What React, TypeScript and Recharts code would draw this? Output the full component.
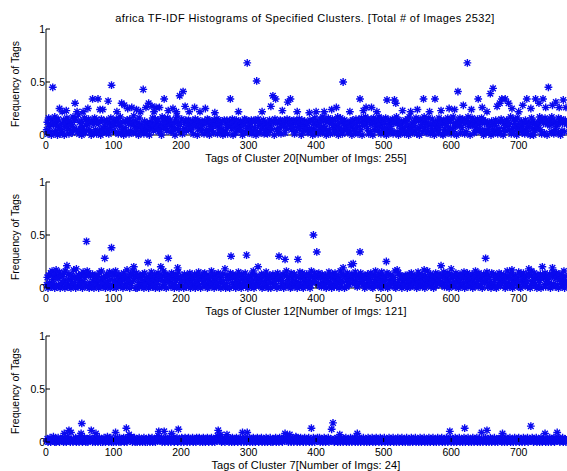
import React from "react";
import { ScatterChart, Scatter, XAxis, YAxis } from "recharts";

// tag frequencies, one char per tag (base36 digit = hundredths)
const cluster20Band = [
  "5c1g83a0e6b2h94d0f7c1a5i2e08b3g6d1c94a2h7e0f5b3j1c6d08a4g2e9b1f5c3",
  "0d7a2g5e1c9b4h0f6a3d8c2e5k1b7g0a4d9c3f6e1b8h2a5c0g7d3e9b1f4a6c2i8d",
  "2e6b0g9c4a7f1d5h3b8e0c6a2g4d9f1b7e3c5a0h8d2f6b4g1c9e3a7d5b0f2i6c4",
  "8a3f1d6c0e4b9e2d5a7d1c3f8b0e6c2a4d9c1d7b5f3e0a8c6d2e4b9f1e7c3a5d0",
  "4e2c7e1a9d3b6f0c8d2e5a1c7d4b0c9f3e6a2d8b5e1c4e7d0a3f9d2b6c8e1c5a4",
  "1b8e4a6c2c0f9d5b3d7e1a4c8e2d6f0b9e3c5a7e1d4d2b8f6c0e3a9d5c7b2c1e4",
  "6d0a5g3e9c1b7f4d2h8a6e0c3g5b1d9f7a2e4c8h0b6g3d1f5e9a7c2b4g8d0e6a3",
  "3f7c1e8a5g0d4b9h2c6f1e3a7d0g5b8c2e4h9a1f6d3b7g0c5e2a8d4f1b9c6h3e0",
  "9a2d6g4c1e8b3f0h5d7a2c9e4g1b6d0f8a3c5h7e2b4g9d1a6f3c0e8b5d2g7a4c1",
  "0e5b9d2g7a4c1f6h3e8b0d5a9g2c7f4e1b3d6h8a0c5g9e2b7d4f1a6c3g8e0b5d2",
  "7c3a8f0d5g2b9e4h1c6a3f8d0b7g4e9c2a5h1d6f3b8e0g7c4a9d2f5b1e6g3c8a0",
  "2g6d0b4e9a7c3h5f1d8b2g6e0a4c9f3h7b1d5e8a2g6c0f4b9d3e7a1h5c8g2b6e4",
];

const cluster12Band = [
  "3a0c52e1g84b0d61a93f0c25b7e0g2a48d1c06b3h5a0e92c7b14d0f6a3c8g1e05b2",
  "1d60a4c83b0e72g15a9c04d6b2f08a3e1c7g05b4d92a6c0e38b1f5a70d2c6g49b0e",
  "0a5c2b81d40e63a9b07c2f51a8d03b6e90c4a27g15d0b83c6a1e49d0b72c5f08a3",
  "52b0d7a13c96e0b48a2d05c71f3a09b6d2e84c0a17b5g3c90d6a24e1b80c5d73a0",
  "4c1a80e3b5d29a06c4f17b0d83a5e2c90b6a41d7g0c3b58e2a96d0c14b7f3a08c5",
  "0b9d3a62c0e85a1b47d0c93g2a65b0e18c4d72a0b53f9c1e06a84d2b7c03g5a19e",
  "6a0c4e2b91d5a38c07b6f2a40d9c1e73b5a08g2d64c0b91e5a37c2d80b4f6a13c9",
  "1e5a73c0b94d2a86e1c05b3g7a29d4c0f61b8a35e0d72c4b96a1g03d5e8c2b07a4",
  "3c8b0a5d61e2c97a4b03f8d1a56c2e0b94g7a3d15c80b6e2a49d7c03b5f1a82e6c",
  "0d4a92b6c1e57a03d8c2b4f0a96e1c73b5d08a2g4c61e9b3a07d5c28f1b4a60e3d",
  "5a1c08b3e72d4a9c60b2g5a18d3e0c74b9a26f1d0c85e3a4b71d9c02g6a5e38b0c",
  "2b7d0a4c93e1a68b5d02c7f4a19e3b0d86c2a5g07b4e1d93a6c08f2b5d71e0a4c9",
];

const cluster7Band = [
  "1302140213520103241022314031201523104210321403120261302143012032410",
  "2031402130241032014203152031402103240132041023140213042031520314021",
  "0314021302410320142031402130241603214021304213024103214023140213204",
  "3102413024103214021304123402130421032410231402130241603214032140213",
  "1402130421032410321402130241032140213042103241023140213024103214021",
  "0213402130421302410321402730241032140213042130241032140213024103214",
  "2140213024103214021302410321402130241032140213024103214021302410321",
  "4021302410321402130421302410321402130241032140213024103214021302410",
  "1302410321402130241032140213024103214021302410321402130241032140213",
  "0241032140213024103214021302410321402130241032140213024103214021302",
  "3214021302410321402130241032140213024103214021302410321402130241032",
  "1402130241032140213024103214021302410321402130241032140213024103214",
];

// the points standing clear of the band: [tag, frequency]
const cluster20Peaks: [number, number][] = [
  [10, 0.45], [20, 0.25], [24, 0.22], [30, 0.23], [43, 0.3], [46, 0.22], [55, 0.22],
  [62, 0.25], [69, 0.34], [77, 0.34], [80, 0.24], [84, 0.24], [92, 0.32], [97, 0.47],
  [105, 0.22], [112, 0.3], [116, 0.28], [121, 0.25], [127, 0.26], [134, 0.24], [140, 0.22],
  [144, 0.43], [148, 0.26], [152, 0.3], [157, 0.27], [160, 0.22], [163, 0.26], [168, 0.26],
  [175, 0.34], [181, 0.23], [188, 0.25], [193, 0.22], [198, 0.37], [203, 0.41], [206, 0.27],
  [212, 0.22], [220, 0.26], [228, 0.22], [236, 0.25], [250, 0.21], [273, 0.34], [285, 0.22],
  [298, 0.68], [312, 0.51], [320, 0.22], [333, 0.27], [336, 0.37], [340, 0.34], [350, 0.23],
  [358, 0.31], [362, 0.34], [372, 0.22], [390, 0.21], [400, 0.22], [412, 0.22], [423, 0.24],
  [430, 0.26], [440, 0.5], [450, 0.22], [465, 0.34], [470, 0.23], [474, 0.26], [482, 0.26],
  [490, 0.22], [505, 0.33], [516, 0.33], [518, 0.3], [528, 0.23], [540, 0.22], [550, 0.24],
  [559, 0.34], [568, 0.22], [576, 0.34], [585, 0.23], [597, 0.25], [605, 0.24], [610, 0.41],
  [618, 0.28], [624, 0.68], [630, 0.24], [640, 0.34], [646, 0.26], [653, 0.22], [658, 0.39],
  [662, 0.44], [668, 0.27], [672, 0.3], [675, 0.34], [680, 0.34], [685, 0.3], [690, 0.25],
  [700, 0.22], [706, 0.28], [712, 0.34], [718, 0.25], [725, 0.34], [730, 0.3], [736, 0.34],
  [740, 0.26], [744, 0.45], [750, 0.28], [755, 0.31], [760, 0.26], [766, 0.33], [770, 0.26],
];

const cluster12Peaks: [number, number][] = [
  [15, 0.17], [31, 0.21], [45, 0.18], [60, 0.44], [87, 0.28], [97, 0.38], [120, 0.17],
  [130, 0.2], [151, 0.24], [170, 0.2], [181, 0.28], [195, 0.19], [265, 0.18], [274, 0.3],
  [297, 0.31], [314, 0.2], [345, 0.3], [354, 0.27], [373, 0.27], [396, 0.5], [401, 0.34],
  [440, 0.19], [452, 0.22], [455, 0.23], [465, 0.34], [504, 0.25], [520, 0.17], [560, 0.17],
  [585, 0.21], [600, 0.18], [651, 0.28], [690, 0.17], [715, 0.18], [735, 0.2], [750, 0.19],
];

const cluster7Peaks: [number, number][] = [
  [27, 0.08], [34, 0.11], [37, 0.09], [52, 0.08], [53, 0.175], [67, 0.11], [74, 0.08],
  [103, 0.09], [119, 0.13], [123, 0.07], [167, 0.1], [175, 0.1], [186, 0.08], [196, 0.12],
  [255, 0.11], [259, 0.07], [268, 0.07], [291, 0.09], [298, 0.09], [354, 0.08], [370, 0.05],
  [393, 0.13], [423, 0.12], [425, 0.18], [435, 0.07], [461, 0.08], [598, 0.1], [620, 0.13],
  [645, 0.09], [653, 0.11], [676, 0.08], [718, 0.15], [739, 0.08], [757, 0.09],
];

const TAG_COUNT = 771;
const X_TICKS = [0, 100, 200, 300, 400, 500, 600, 700];
const Y_TICKS = [0, 0.5, 1];

const FONT = "'Liberation Sans', Arial, Helvetica, sans-serif";
const BLUE = "#0a0aef";

const buildSeries = (band: string[], peaks: [number, number][]) => {
  const values = band.join("").slice(0, TAG_COUNT).split("").map((ch) => parseInt(ch, 36) / 100);
  peaks.forEach(([tag, v]) => {
    values[tag - 1] = v;
  });
  return values.map((freq, i) => ({ tag: i + 1, freq }));
};

const panels = [
  { top: 29, data: buildSeries(cluster20Band, cluster20Peaks), xLabel: "Tags of Cluster 20[Number of Imgs: 255]" },
  { top: 182, data: buildSeries(cluster12Band, cluster12Peaks), xLabel: "Tags of Cluster 12[Number of Imgs: 121]" },
  { top: 336, data: buildSeries(cluster7Band, cluster7Peaks), xLabel: "Tags of Cluster 7[Number of Imgs: 24]" },
];

const PLOT_H = 106;
const PAD_TOP = 10;

// matlab style '*' marker
const Star = (props: any) => {
  const { cx, cy } = props;
  if (cx == null || cy == null) return null;
  const r = 3.9;
  const d = 2.8;
  const path =
    `M${cx - r},${cy}H${cx + r}M${cx},${cy - r}V${cy + r}` +
    `M${cx - d},${cy - d}L${cx + d},${cy + d}M${cx - d},${cy + d}L${cx + d},${cy - d}`;
  return <path d={path} stroke={BLUE} strokeWidth={1.4} fill="none" />;
};

const BottomTick = (props: any) => {
  const { x, y, payload } = props;
  return (
    <g>
      <line x1={x} y1={y} x2={x} y2={y - 4} stroke="#000" />
      <text x={x} y={y + 14} textAnchor="middle" fontSize={10.5} fontFamily={FONT} fill="#000">
        {payload.value}
      </text>
    </g>
  );
};

const TopTick = (props: any) => {
  const { x, y } = props;
  return <line x1={x} y1={y} x2={x} y2={y + 4} stroke="#000" />;
};

const LeftTick = (props: any) => {
  const { x, y, payload } = props;
  return (
    <g>
      <line x1={x} y1={y} x2={x + 4} y2={y} stroke="#000" />
      <text x={x - 1} y={y + 3.5} textAnchor="end" fontSize={10.5} fontFamily={FONT} fill="#000">
        {String(payload.value)}
      </text>
    </g>
  );
};

const RightTick = (props: any) => {
  const { x, y } = props;
  return <line x1={x} y1={y} x2={x - 4} y2={y} stroke="#000" />;
};

function Panel({ data }: { data: { tag: number; freq: number }[] }) {
  return (
    <ScatterChart width={600} height={PAD_TOP + PLOT_H + 30} margin={{ top: PAD_TOP, right: 32, bottom: 0, left: 0 }}>
      <XAxis
        type="number"
        dataKey="tag"
        domain={[0, 773]}
        ticks={X_TICKS}
        interval={0}
        height={30}
        tickSize={0}
        tickMargin={0}
        tickLine={false}
        tick={BottomTick}
        axisLine={{ stroke: "#000" }}
      />
      <XAxis
        xAxisId="top"
        orientation="top"
        type="number"
        domain={[0, 773]}
        allowDataOverflow
        ticks={X_TICKS}
        interval={0}
        height={0}
        tickSize={0}
        tickMargin={0}
        tickLine={false}
        tick={TopTick}
        axisLine={{ stroke: "#000" }}
      />
      <YAxis
        type="number"
        dataKey="freq"
        domain={[0, 1]}
        ticks={Y_TICKS}
        interval={0}
        width={46}
        tickSize={0}
        tickMargin={0}
        tickLine={false}
        tick={LeftTick}
        axisLine={{ stroke: "#000" }}
      />
      <YAxis
        yAxisId="right"
        orientation="right"
        type="number"
        domain={[0, 1]}
        allowDataOverflow
        ticks={Y_TICKS}
        interval={0}
        width={0}
        tickSize={0}
        tickMargin={0}
        tickLine={false}
        tick={RightTick}
        axisLine={{ stroke: "#000" }}
      />
      <Scatter data={data} shape={Star} isAnimationActive={false} />
    </ScatterChart>
  );
}

export default function App() {
  return (
    <div style={{ position: "fixed", left: 0, top: 0, width: 567, height: 471, overflow: "hidden", background: "#fff" }}>
      {panels.map((p) => (
        <div key={p.xLabel} style={{ position: "absolute", left: 0, top: p.top - PAD_TOP }}>
          <Panel data={p.data} />
        </div>
      ))}
      <svg width={567} height={471} style={{ position: "absolute", left: 0, top: 0, pointerEvents: "none" }}>
        <text x={305} y={21.5} textAnchor="middle" fontSize={11} letterSpacing={0.4} fontFamily={FONT} fill="#000">
          africa TF-IDF Histograms of Specified Clusters. [Total # of Images 2532]
        </text>
        {panels.map((p) => (
          <g key={p.xLabel}>
            <text x={306} y={p.top + PLOT_H + 27} textAnchor="middle" fontSize={11} letterSpacing={0.1} fontFamily={FONT} fill="#000">
              {p.xLabel}
            </text>
            <text
              transform={`translate(19,${p.top + PLOT_H / 2 + 2}) rotate(-90)`}
              textAnchor="middle"
              fontSize={10.5}
              fontFamily={FONT}
              fill="#000"
            >
              Frequency of Tags
            </text>
          </g>
        ))}
      </svg>
    </div>
  );
}
